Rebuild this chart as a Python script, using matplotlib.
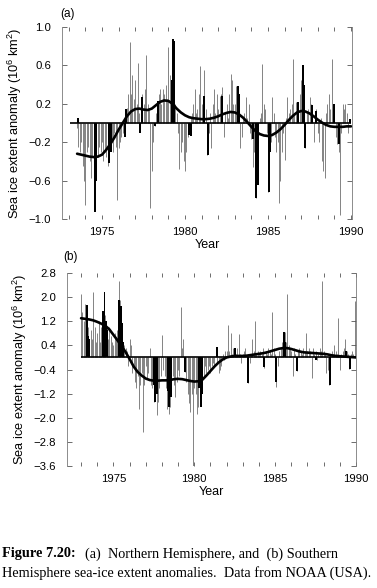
import matplotlib
matplotlib.use('Agg')
import matplotlib.pyplot as plt
import numpy as np
from matplotlib.ticker import FixedLocator, MultipleLocator

plt.rcParams['font.family'] = ['Liberation Sans', 'DejaVu Sans']
plt.rcParams['mathtext.default'] = 'regular'

# ---------------- Panel (a): Northern Hemisphere ----------------
nh_start = 1973.5          # first monthly value (July 1973)
nh_monthly = [
    # 1973 (Jul-Dec)
    -0.05, -0.25, -0.30, -0.20, -0.45, -0.60,
    # 1974
    -0.85, -0.30, -0.25, -0.40, -0.57, -0.35, -0.90, -0.75, -0.30, -0.35, -0.25, -0.30,
    # 1975
    -0.20, -0.40, -0.30, -0.35, -0.45, -0.30, -0.25, -0.20, -0.30, -0.10, -0.25, -0.80,
    # 1976
    -0.26, -0.20, -0.15, -0.10, -0.05, 0.15, 0.16, 0.30, 0.84, 0.30, 0.50, 0.25,
    # 1977
    0.45, 0.20, 0.63, 0.10, 0.15, 0.30, 0.20, 0.35, 0.71, 0.20, 0.15, -0.89,
    # 1978
    -0.50, -0.20, -0.03, 0.10, 0.23, 0.30, 0.35, 0.20, 0.35, 0.30, 0.40, 0.25,
    # 1979
    0.79, 0.50, 0.30, 0.60, 0.35, 0.20, 0.10, -0.10, -0.48, -0.30, -0.20, -0.40,
    # 1980
    -0.50, -0.30, -0.15, -0.10, 0.05, 0.10, 0.20, 0.35, 0.10, 0.15, 0.30, 0.59,
    # 1981
    0.20, 0.28, 0.55, 0.15, -0.33, -0.10, 0.10, -0.26, 0.20, 0.35, 0.10, 0.30,
    # 1982
    0.15, 0.28, 0.30, 0.38, -0.15, 0.10, 0.20, 0.05, 0.30, 0.51, 0.45, 0.20,
    # 1983
    0.20, 0.39, 0.30, 0.10, -0.26, -0.15, 0.05, 0.10, 0.27, 0.05, 0.20, -0.10,
    # 1984
    -0.17, -0.46, -0.30, -0.78, -0.60, -0.10, 0.05, 0.10, 0.61, 0.20, 0.15, -0.10,
    # 1985
    -0.72, -0.40, -0.20, 0.27, 0.10, -0.15, -0.30, -0.20, -0.83, -0.60, -0.30, -0.10,
    # 1986
    -0.39, 0.05, 0.27, 0.10, 0.15, 0.20, 0.67, 0.10, 0.22, 0.15, 0.22, 0.30,
    # 1987
    0.45, 0.60, 0.30, -0.26, 0.10, 0.15, 0.27, 0.20, 0.19, -0.20, 0.12, 0.15,
    # 1988
    -0.10, -0.20, 0.05, -0.40, -0.50, -0.57, 0.10, 0.20, 0.30, 0.15, 0.67, 0.20,
    # 1989
    0.20, -0.15, -0.22, -0.30, -0.96, -0.10, 0.20, 0.15, 0.20, 0.10, -0.10, 0.04,
]
nh_bar_years = [1973.55, 1974.55, 1974.65, 1975.45, 1975.55, 1976.37, 1976.45,
                1977.30, 1977.38, 1978.20, 1978.40, 1979.20, 1979.25, 1979.35,
                1980.25, 1980.35, 1981.15, 1981.40, 1982.20, 1983.20, 1983.25,
                1984.10, 1984.30, 1984.40, 1985.05, 1985.15, 1986.80, 1987.10,
                1987.15, 1987.25, 1987.65, 1987.90, 1989.00, 1989.30, 1989.95]
nh_bar_values = [0.05, -0.93, -0.60, -0.42, -0.30, -0.15, 0.15,
                 -0.10, 0.27, -0.03, 0.23, 0.45, 0.87, 0.85,
                 -0.12, -0.14, 0.28, -0.33, 0.28, 0.39, 0.30,
                 -0.17, -0.78, -0.65, -0.72, -0.30, 0.22, 0.60,
                 0.40, -0.26, 0.19, 0.12, 0.20, -0.22, 0.04]
nh_curve_start = 1973.5    # smoothed curve, every quarter year
nh_curve = [
    -0.32, -0.33,
    -0.34, -0.35, -0.355, -0.35,
    -0.33, -0.28, -0.22, -0.15,
    -0.07, 0.00, 0.07, 0.12,
    0.145, 0.15, 0.14, 0.135,
    0.15, 0.185, 0.22, 0.235,
    0.23, 0.20, 0.15, 0.11,
    0.08, 0.06, 0.05, 0.045,
    0.04, 0.04, 0.045, 0.055,
    0.07, 0.09, 0.105, 0.115,
    0.11, 0.09, 0.055, 0.01,
    -0.04, -0.085, -0.115, -0.13,
    -0.135, -0.125, -0.10, -0.065,
    -0.02, 0.03, 0.075, 0.11,
    0.125, 0.12, 0.10, 0.07,
    0.035, 0.005, -0.02, -0.035,
    -0.04, -0.04, -0.04, -0.035,
    -0.035,
]
nh_yticks = [1.0, 0.6, 0.2, -0.2, -0.6, -1.0]

# ---------------- Panel (b): Southern Hemisphere ----------------
sh_start = 1973.0
sh_monthly = [
    # 1973
    2.10, 1.50, 1.20, 1.78, 0.70, 1.00, 0.50, 0.90, 0.60, 2.16, 1.00, 0.50,
    # 1974
    0.80, 1.20, 0.50, 1.00, 1.54, 2.16, 1.40, 1.00, 0.60, 1.00, 0.70, 0.50,
    # 1975
    0.40, 0.80, 0.60, 0.90, 2.55, 1.92, 1.15, 0.50, 0.40, 0.30, 0.20, -0.30,
    # 1976
    0.60, 0.40, -0.50, -0.30, -0.80, -1.00, -0.60, -1.70, -0.90, -0.50, -2.47, -0.90,
    # 1977
    -0.30, -0.70, -0.50, 0.30, -0.90, -1.00, -1.48, -1.20, -1.90, -1.48, -1.00, -0.60,
    # 1978
    0.73, -0.40, -0.60, -1.00, -1.70, -1.87, -1.65, -1.00, -0.60, -0.90, -1.30, -0.80,
    # 1979
    -0.40, -0.60, 1.67, 0.30, 0.60, -0.49, -0.80, -1.20, -1.50, -1.80, -1.20, -3.60,
    # 1980
    -1.00, -1.20, -1.86, -1.66, -1.20, -0.80, -1.00, -0.60, -0.30, -0.50, -0.40, -0.30,
    # 1981
    -0.50, -0.30, -0.20, -0.30, 0.34, -0.20, -0.50, -0.40, -0.30, 0.10, -0.10, 0.20,
    # 1982
    0.20, 1.06, 0.20, 0.80, 0.10, 0.30, 0.20, 0.10, 0.30, 0.79, 0.10, -0.20,
    # 1983
    0.10, 0.20, 0.30, -0.30, -0.85, -0.20, 0.10, 0.60, 0.20, 1.22, 0.10, 0.20,
    # 1984
    0.10, 0.20, 0.10, 0.30, -0.35, 0.20, 0.10, 0.30, 0.20, 0.10, 1.50, 0.30,
    # 1985
    0.10, -0.97, -0.30, 0.20, 0.30, 0.50, 0.40, 0.83, 0.50, 2.10, 0.40, 0.30,
    # 1986
    0.20, -0.60, 0.30, 0.10, -0.44, 0.20, 0.30, 0.20, 0.10, 0.30, 0.20, 0.80,
    # 1987
    0.20, 0.30, 0.20, -0.68, 0.30, 0.10, 0.20, -0.10, 0.10, 0.30, 0.20, 2.55,
    # 1988
    0.20, 0.10, -0.50, -0.40, -0.93, 0.10, 0.20, 0.10, 0.40, 0.20, 0.10, 1.32,
    # 1989
    -0.40, 0.10, 0.20, 0.30, 0.60, 0.20, 0.10, -0.38, 0.10, 0.20, 0.10, 1.86,
]
sh_bar_years = [1973.35, 1973.45, 1973.50, 1974.35, 1974.45, 1974.55, 1974.60,
                1975.35, 1975.45, 1975.55, 1975.60, 1977.50, 1977.60, 1977.70,
                1978.35, 1978.45, 1978.55, 1979.45, 1980.30, 1980.40, 1980.50,
                1981.40, 1982.50, 1983.35, 1984.30, 1985.05, 1985.55, 1985.60,
                1986.35, 1987.55, 1988.40, 1989.40, 1989.60]
sh_bar_values = [1.75, 0.70, 0.60, 1.54, 2.16, 1.20, 0.90,
                 1.92, 1.70, 1.15, 0.50, -0.90, -1.48, -1.20,
                 -1.10, -1.65, -1.30, -0.49, -1.00, -1.66, -1.20,
                 0.34, 0.30, -0.85, -0.32, -0.82, 0.83, 0.50,
                 -0.44, -0.10, -0.90, 0.20, -0.38]
sh_curve_start = 1973.0
sh_curve = [
    1.30, 1.28, 1.26, 1.23,
    1.18, 1.12, 1.05, 0.93,
    0.75, 0.57, 0.38, 0.18,
    -0.05, -0.30, -0.48, -0.60,
    -0.70, -0.75, -0.77, -0.77,
    -0.76, -0.76, -0.75, -0.72,
    -0.71, -0.72, -0.75, -0.78,
    -0.80, -0.79, -0.74, -0.60,
    -0.45, -0.30, -0.17, -0.07,
    0.00, 0.03, 0.05, 0.05,
    0.05, 0.06, 0.08, 0.10,
    0.12, 0.14, 0.17, 0.21,
    0.25, 0.29, 0.31, 0.31,
    0.28, 0.24, 0.20, 0.17,
    0.16, 0.15, 0.14, 0.13,
    0.12, 0.10, 0.07, 0.05,
    0.04, 0.03, 0.02, 0.01,
    0.00,
]
sh_yticks = [2.8, 2.0, 1.2, 0.4, -0.4, -1.2, -2.0, -2.8, -3.6]

year_labels = [1975, 1980, 1985, 1990]
ylabel_text = 'Sea ice extent anomaly (10$^{6}$ km$^{2}$)'

W, H = 377, 588
fig = plt.figure(figsize=(W / 100, H / 100), dpi=100)


def px_axes(left, top, right, bottom):
    return fig.add_axes([left / W, 1 - bottom / H, (right - left) / W, (bottom - top) / H])


def draw_panel(ax, start, monthly, bar_years, bar_values, c_start, curve,
               base_start, xlim, ylim, yticks, label, label_xy):
    yrs = start + np.arange(len(monthly)) / 12.0
    ax.vlines(yrs, 0, monthly, color='#7a7a7a', lw=0.65, zorder=1)
    ax.bar(bar_years, bar_values, width=0.12, color='black', zorder=2)
    ax.hlines(0, base_start, 1990.0, color='black', lw=1.2, zorder=3)
    cy = c_start + np.arange(len(curve)) * 0.25
    ax.plot(cy, curve, color='black', lw=1.9, zorder=4, solid_capstyle='round')
    ax.set_xlim(*xlim)
    ax.set_ylim(*ylim)
    for s in ['top', 'bottom']:
        ax.spines[s].set_visible(False)
    for s in ['left', 'right']:
        ax.spines[s].set_color('#7a7a7a')
        ax.spines[s].set_linewidth(0.6)
    ax.xaxis.set_major_locator(FixedLocator(year_labels))
    ax.xaxis.set_minor_locator(MultipleLocator(1))
    ax.set_xticklabels([str(y) for y in year_labels])
    ax.set_yticks(yticks)
    ax.set_yticklabels([f'{v:.1f}'.replace('-', '\u2212') for v in yticks])
    ax.tick_params(axis='x', which='both', direction='in', top=True, bottom=True,
                   length=3, width=0.6, color='#555555', labelsize=8.2, pad=6)
    ax.tick_params(axis='y', which='both', direction='in', left=True, right=True,
                   length=3.5, width=0.6, color='#555555', labelsize=8.2, pad=8)
    ax.set_xlabel('Year', fontsize=9, labelpad=1)
    ax.set_ylabel(ylabel_text, fontsize=9.2, labelpad=3)
    fig.text(label_xy[0] / W, 1 - label_xy[1] / H, label, fontsize=8.5,
             ha='left', va='center')


ax1 = px_axes(62, 27, 352, 219)
draw_panel(ax1, nh_start, nh_monthly, nh_bar_years, nh_bar_values,
           nh_curve_start, nh_curve, 1973.07, (1972.59, 1990.06), (-1.0, 1.0),
           nh_yticks, '(a)', (60, 14))

ax2 = px_axes(67, 273, 356, 466)
draw_panel(ax2, sh_start, sh_monthly, sh_bar_years, sh_bar_values,
           sh_curve_start, sh_curve, 1973.0, (1972.13, 1990.0), (-3.6, 2.8),
           sh_yticks, '(b)', (63, 257))

# caption
cap_fs = 10.25
renderer = fig.canvas.get_renderer()
t1 = fig.text(2 / W, 1 - 554 / H, 'Figure 7.20:', fontsize=cap_fs, fontweight='bold',
              family='Liberation Serif', ha='left', va='center')
bb = t1.get_window_extent(renderer)
fig.text((bb.x1 + 9) / W, 1 - 554 / H, '(a)  Northern Hemisphere, and  (b) Southern',
         fontsize=cap_fs, family='Liberation Serif', ha='left', va='center')
fig.text(2 / W, 1 - 573 / H, 'Hemisphere sea-ice extent anomalies.  Data from NOAA (USA).',
         fontsize=cap_fs, family='Liberation Serif', ha='left', va='center')

fig.savefig('out.png', dpi=100)
